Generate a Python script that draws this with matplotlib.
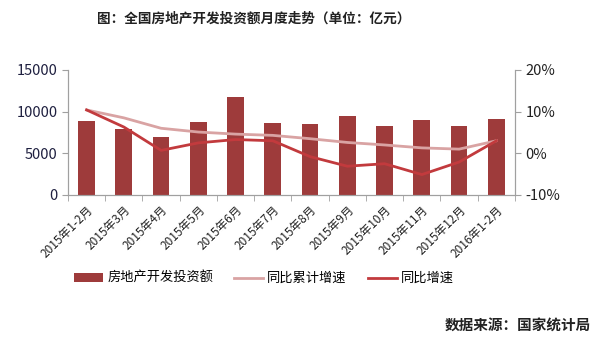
import matplotlib
matplotlib.use("Agg")
import matplotlib.pyplot as plt
from matplotlib.ticker import FuncFormatter
from matplotlib.transforms import ScaledTranslation

plt.rcParams['font.family'] = ['Noto Sans CJK SC', 'DejaVu Sans']

categories = ["2015年1-2月", "2015年3月", "2015年4月", "2015年5月", "2015年6月",
              "2015年7月", "2015年8月", "2015年9月", "2015年10月", "2015年11月",
              "2015年12月", "2016年1-2月"]
investment = [8850, 7970, 7010, 8770, 11760, 8650, 8530, 9520, 8290, 8980, 8290, 9100]
cum_growth = [10.4, 8.5, 6.0, 5.1, 4.6, 4.3, 3.5, 2.6, 2.0, 1.3, 1.0, 3.0]
mon_growth = [10.4, 6.3, 0.7, 2.5, 3.3, 3.0, -0.8, -3.1, -2.5, -5.1, -2.1, 3.0]

bar_color = "#9E3B3B"
light_color = "#D9A3A3"
dark_color = "#C23A3D"
axis_color = "#A0A0A0"

fig = plt.figure(figsize=(6.0, 3.39), dpi=100)
ax = fig.add_axes([0.1133, 0.4248, 0.745, 0.369])
ax2 = ax.twinx()

x = list(range(len(categories)))
bars = ax.bar(x, investment, width=0.45, color=bar_color, zorder=2, label="房地产开发投资额")
l1, = ax2.plot(x, cum_growth, color=light_color, lw=2, label="同比累计增速", zorder=3)
l2, = ax2.plot(x, mon_growth, color=dark_color, lw=2, label="同比增速", zorder=4)

ax.set_xlim(-0.5, len(categories) - 0.5)
ax.set_ylim(0, 15000)
ax.set_yticks([0, 5000, 10000, 15000])
ax2.set_ylim(-10, 20)
ax2.set_yticks([-10, 0, 10, 20])
ax2.yaxis.set_major_formatter(FuncFormatter(lambda v, p: f"{v:.0f}%"))

ax.set_xticks(x)
ax.set_xticklabels(categories, rotation=45, ha="right", rotation_mode="anchor", fontsize=8.5, color="#222222")
offset = ScaledTranslation(-6 / 100, -4 / 100, fig.dpi_scale_trans)
for lab in ax.get_xticklabels():
    lab.set_transform(lab.get_transform() + offset)
ax.set_xticks([i - 0.5 for i in range(len(categories) + 1)], minor=True)
ax.tick_params(axis="x", which="major", length=0, pad=6)
ax.tick_params(axis="x", which="minor", length=4, color=axis_color, direction="out")
ax.tick_params(axis="y", length=4, color=axis_color, labelsize=10.5, labelcolor="#1F2040")
ax2.tick_params(axis="y", length=4, color=axis_color, labelsize=10.5, labelcolor="#222222")

for a in (ax, ax2):
    a.spines["top"].set_visible(False)
    a.spines["left"].set_color(axis_color)
    a.spines["right"].set_color(axis_color)
    a.spines["bottom"].set_color(axis_color)
ax.set_facecolor("none")

fig.text(0.423, 0.945, "图：全国房地产开发投资额月度走势（单位：亿元）", ha="center", va="center",
         fontsize=9.8, fontweight="bold", color="#222222")
fig.text(0.985, 0.04, "数据来源：国家统计局", ha="right", va="center",
         fontsize=10.5, fontweight="bold", color="#222222")

fig.legend(handles=[bars, l1, l2], loc="center", bbox_to_anchor=(0.44, 0.178), ncol=3,
           frameon=False, fontsize=9.5, handlelength=2.2, handletextpad=0.3, columnspacing=1.6)

fig.savefig("out.png", dpi=100)
